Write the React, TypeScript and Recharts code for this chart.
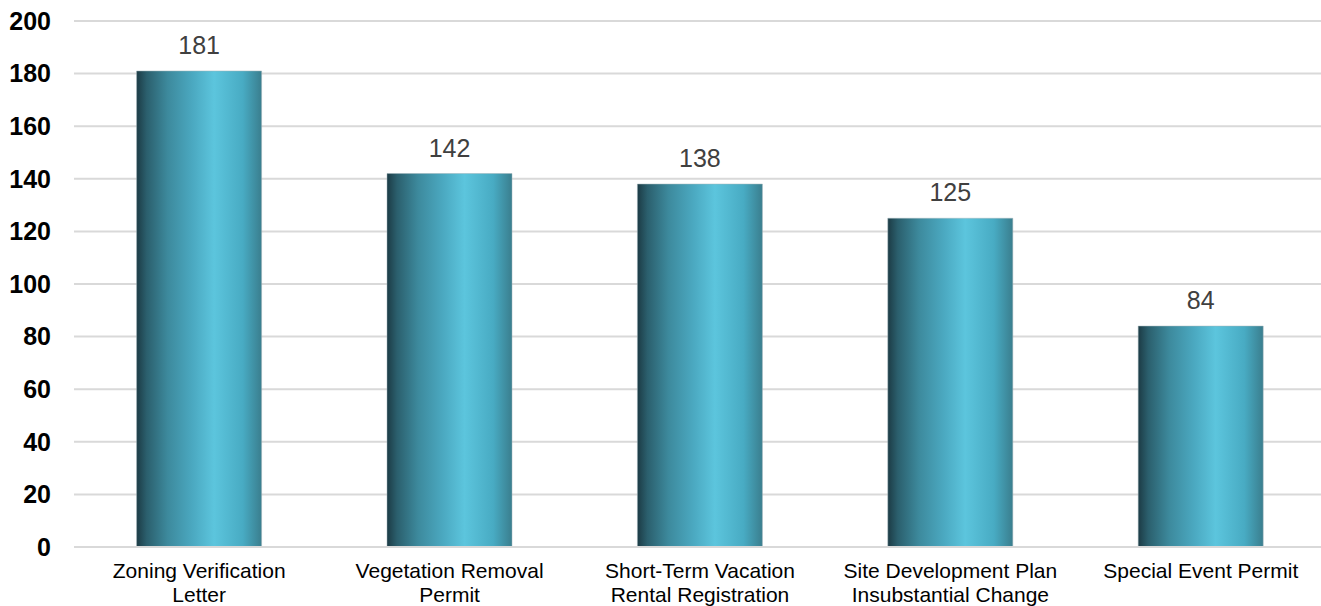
import { BarChart, Bar, XAxis, YAxis, CartesianGrid, LabelList } from "recharts";

const categories = [
  "Zoning Verification Letter",
  "Vegetation Removal Permit",
  "Short-Term Vacation Rental Registration",
  "Site Development Plan Insubstantial Change",
  "Special Event Permit",
];
// how each category label is broken across lines in the original
const labelLines: Record<string, string[]> = {
  "Zoning Verification Letter": ["Zoning Verification", "Letter"],
  "Vegetation Removal Permit": ["Vegetation Removal", "Permit"],
  "Short-Term Vacation Rental Registration": ["Short-Term Vacation", "Rental Registration"],
  "Site Development Plan Insubstantial Change": ["Site Development Plan", "Insubstantial Change"],
  "Special Event Permit": ["Special Event Permit"],
};
const counts = [181, 142, 138, 125, 84];
const yTicks = [0, 20, 40, 60, 80, 100, 120, 140, 160, 180, 200];

const chartData = categories.map((name, i) => ({ name, count: counts[i] }));

if (typeof document !== "undefined") document.body.style.margin = "0";

const FONT = "'Liberation Sans', Arial, sans-serif";

const CategoryTick = (props: any) => {
  const { x, y, payload } = props;
  const lines = labelLines[payload.value] || [payload.value];
  return (
    <text x={x} y={y + 23} textAnchor="middle" fontSize={21} fontFamily={FONT} fill="#000">
      {lines.map((line, i) => (
        <tspan key={i} x={x} dy={i === 0 ? 0 : 24}>
          {line}
        </tspan>
      ))}
    </text>
  );
};

export default function App() {
  return (
    <BarChart
      width={1321}
      height={606}
      data={chartData}
      margin={{ top: 21, right: -5, left: 0, bottom: 0 }}
      barCategoryGap="25%"
      style={{ overflow: "hidden" }}
    >
      <defs>
        <linearGradient id="barShade" x1="0" y1="0" x2="1" y2="0">
          <stop offset="0%" stopColor="#1c3b45" />
          <stop offset="8%" stopColor="#2b5f6d" />
          <stop offset="25%" stopColor="#3d8a9d" />
          <stop offset="45%" stopColor="#4ba9c1" />
          <stop offset="62%" stopColor="#5cc5dd" />
          <stop offset="85%" stopColor="#48abc3" />
          <stop offset="100%" stopColor="#3a7e8e" />
        </linearGradient>
      </defs>
      <CartesianGrid vertical={false} stroke="#d9d9d9" strokeWidth={2} />
      <XAxis
        dataKey="name"
        height={59}
        axisLine={{ stroke: "#d9d9d9", strokeWidth: 2 }}
        tickLine={false}
        interval={0}
        tick={<CategoryTick />}
      />
      <YAxis
        width={74}
        domain={[0, 200]}
        ticks={yTicks}
        axisLine={false}
        tickLine={false}
        tickMargin={17}
        tick={{ fontSize: 25, fontWeight: "bold", fill: "#000", fontFamily: FONT }}
      />
      <Bar dataKey="count" fill="url(#barShade)" stroke="#9fb3b8" strokeWidth={0.5} isAnimationActive={false}>
        <LabelList
          dataKey="count"
          position="top"
          offset={17}
          style={{ fontSize: 25, fill: "#404040", fontFamily: FONT }}
        />
      </Bar>
    </BarChart>
  );
}
